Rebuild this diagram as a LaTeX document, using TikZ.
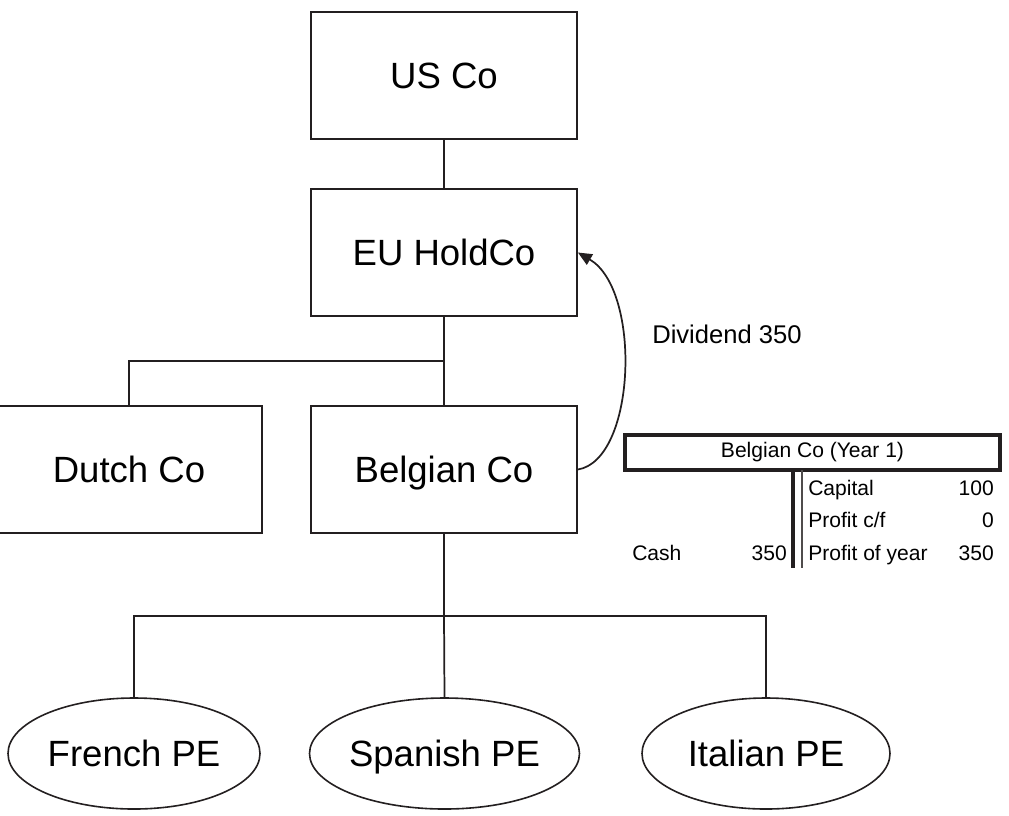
\documentclass[tikz,border=0pt]{standalone}
\usepackage{fontspec}
\setmainfont{Liberation Sans}
\usetikzlibrary{shapes.geometric,arrows.meta}
\definecolor{ink}{HTML}{231F20}
\begin{document}
\begin{tikzpicture}[x=0.75pt,y=-0.75pt,
  bigtext/.style={font=\fontsize{27.4}{32}\selectfont,text height=19.6pt,text depth=0pt},
  company/.style={draw=ink,line width=1.3pt,rectangle,minimum width=199.5pt,minimum height=95.25pt,inner sep=0pt,bigtext},
  branch/.style={draw=ink,line width=1.2pt,ellipse,minimum height=83.25pt,inner sep=0pt,bigtext},
  link/.style={draw=ink,line width=1.3pt},
  small/.style={font=\fontsize{15.8}{18}\selectfont,inner sep=0pt},
]
\useasboundingbox (0,0) rectangle (1009,815);

% group companies
\node[company] (us) at (444,75.5) {US Co};
\node[company] (eu) at (444,252.5) {EU HoldCo};
\node[company] (dutch) at (129,469.5) {Dutch Co};
\node[company] (belg) at (444,469.5) {Belgian Co};

% permanent establishments
\node[branch,minimum width=189pt] (french) at (134,753.5) {French PE};
\node[branch,minimum width=186.75pt] (spanish) at (444.5,753.5) {Spanish PE};
\node[branch,minimum width=186pt] (italian) at (766,753.5) {Italian PE};

% ownership lines
\coordinate (j1) at (444,361);
\coordinate (j2) at (444,616);
\draw[link] (us.south) -- (eu.north);
\draw[link] (eu.south) -- (belg.north);
\draw[link] (j1) -| (dutch.north);
\draw[link] (belg.south) -- (j2);
\draw[link] (french.north) |- (j2) -| (italian.north);
\draw[link] (j2) -- (spanish.north);

% dividend flow
\draw[link,-{Triangle[length=10.5pt,width=9pt]}] (belg.east) .. controls (636,460) and (642,290) .. (eu.east);
\node[font=\fontsize{19.2}{22}\selectfont,anchor=base west,inner sep=0pt] (div) at (652,343) {Dividend 350};

% T-account
\node[draw=ink,line width=2.5pt,minimum width=281.25pt,minimum height=26.25pt,inner sep=0pt,small] (thead) at (812.5,452.5) {Belgian Co (Year 1)};
\draw[ink,line width=2.4pt] (793,470) -- (793,568);
\draw[ink!80,line width=1.5pt] (802,470) -- (802,568);
\node[small,anchor=base west] (cap) at (808,495) {Capital};
\node[small,anchor=base east] (capv) at (994,495) {100};
\node[small,anchor=base west] (pcf) at (808,527) {Profit c/f};
\node[small,anchor=base east] (pcfv) at (994,527) {0};
\node[small,anchor=base west] (pyr) at (808,560) {Profit of year};
\node[small,anchor=base east] (pyrv) at (994,560) {350};
\node[small,anchor=base west] (cash) at (632,560) {Cash};
\node[small,anchor=base east] (cashv) at (787,560) {350};
\end{tikzpicture}
\end{document}
